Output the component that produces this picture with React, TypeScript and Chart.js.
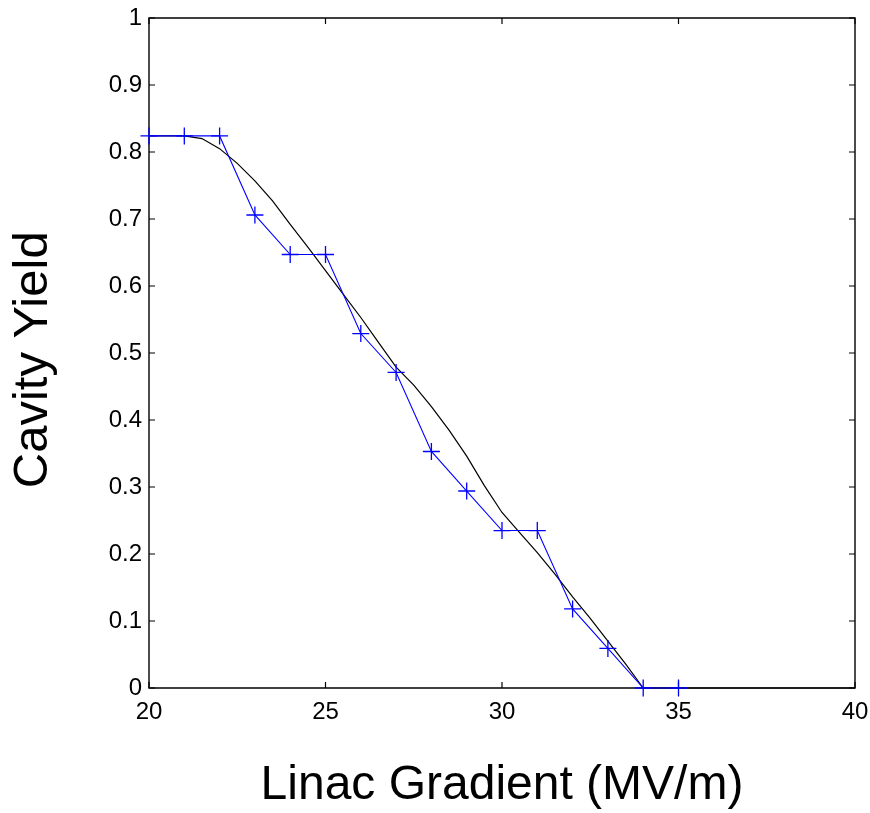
import React, { useEffect, useRef } from "react";
import { Chart, registerables } from "chart.js";

Chart.register(...registerables);

const blueX = [20, 21, 22, 23, 24, 25, 26, 27, 28, 29, 30, 31, 32, 33, 34, 35];
const blueY = [0.824, 0.824, 0.824, 0.706, 0.647, 0.647, 0.529, 0.471, 0.353, 0.294, 0.235, 0.235, 0.118, 0.059, 0, 0];

const blackX = [20, 21, 21.5, 22, 22.5, 23, 23.5, 24, 24.5, 25, 25.5, 26, 26.5, 27, 27.5, 28, 28.5, 29, 29.5, 30, 30.5, 31, 31.5, 32, 32.5, 33, 33.5, 34, 35, 40];
const blackY = [0.824, 0.824, 0.82, 0.805, 0.783, 0.757, 0.727, 0.692, 0.658, 0.623, 0.588, 0.553, 0.516, 0.479, 0.452, 0.42, 0.385, 0.346, 0.302, 0.262, 0.232, 0.202, 0.17, 0.136, 0.104, 0.07, 0.036, 0, 0, 0];

const xTicks = [20, 25, 30, 35, 40];
const yTicks = [0, 0.1, 0.2, 0.3, 0.4, 0.5, 0.6, 0.7, 0.8, 0.9, 1];

const xTitle = "Linac Gradient (MV/m)";
const yTitle = "Cavity Yield";

const FONT = "'Liberation Sans', Arial, sans-serif";

const boxPlugin = {
  id: "matlabBox",
  beforeDatasetsDraw(chart: any) {
    const { ctx, chartArea } = chart;
    const { left, right, top, bottom } = chartArea;
    const xs = chart.scales.x;
    const ys = chart.scales.y;
    const len = 6;
    ctx.save();
    ctx.strokeStyle = "#000";
    ctx.lineWidth = 1.4;
    ctx.beginPath();
    ctx.rect(left, top, right - left, bottom - top);
    ctx.stroke();
    ctx.lineWidth = 1.2;
    ctx.beginPath();
    xTicks.forEach((v) => {
      const px = xs.getPixelForValue(v);
      ctx.moveTo(px, bottom);
      ctx.lineTo(px, bottom - len);
      ctx.moveTo(px, top);
      ctx.lineTo(px, top + len);
    });
    yTicks.forEach((v) => {
      const py = ys.getPixelForValue(v);
      ctx.moveTo(left, py);
      ctx.lineTo(left + len, py);
      ctx.moveTo(right, py);
      ctx.lineTo(right - len, py);
    });
    ctx.stroke();
    ctx.restore();
  },
};

export default function App() {
  const ref = useRef<HTMLCanvasElement | null>(null);
  useEffect(() => {
    if (!ref.current) return;
    const chart = new Chart(ref.current, {
      type: "line",
      data: {
        datasets: [
          {
            label: "measured",
            data: blueX.map((x, i) => ({ x, y: blueY[i] })),
            borderColor: "#0000ff",
            backgroundColor: "#0000ff",
            borderWidth: 1.1,
            pointStyle: "cross",
            pointRadius: 8.5,
            pointBorderWidth: 1.3,
            pointBorderColor: "#0000ff",
            tension: 0,
            fill: false,
            clip: false,
            order: 1,
          },
          {
            label: "fit",
            data: blackX.map((x, i) => ({ x, y: blackY[i] })),
            borderColor: "#000000",
            borderWidth: 1.2,
            pointRadius: 0,
            tension: 0,
            fill: false,
            clip: false,
            order: 2,
          },
        ],
      },
      options: {
        animation: false,
        responsive: false,
        layout: { padding: { top: 18, right: 15, left: 0, bottom: 0 } },
        plugins: { legend: { display: false }, tooltip: { enabled: false } },
        scales: {
          x: {
            type: "linear",
            min: 20,
            max: 40,
            grid: { display: false, drawTicks: false },
            border: { display: false },
            afterBuildTicks: (s: any) => {
              s.ticks = xTicks.map((v) => ({ value: v }));
            },
            ticks: {
              color: "#000",
              font: { family: FONT, size: 24 },
              padding: 10,
              maxRotation: 0,
              autoSkip: false,
              callback: (v: any) => String(v),
            },
            title: {
              display: true,
              text: xTitle,
              color: "#000",
              font: { family: FONT, size: 48, lineHeight: 1 },
              padding: { top: 0, bottom: 3 },
            },
            afterFit: (s: any) => {
              s.height = 125;
              s.paddingLeft = 0;
              s.paddingRight = 0;
            },
          },
          y: {
            type: "linear",
            min: 0,
            max: 1,
            grid: { display: false, drawTicks: false },
            border: { display: false },
            afterBuildTicks: (s: any) => {
              s.ticks = yTicks.map((v) => ({ value: v }));
            },
            ticks: {
              color: "#000",
              font: { family: FONT, size: 24 },
              padding: 7,
              autoSkip: false,
              callback: (v: any) => String(Math.round(Number(v) * 10) / 10),
            },
            title: {
              display: true,
              text: yTitle + " ",
              color: "#000",
              font: { family: FONT, size: 49, lineHeight: 1 },
              padding: { top: 9, bottom: 0 },
            },
            afterFit: (s: any) => {
              s.width = 149;
              s.paddingTop = 0;
              s.paddingBottom = 0;
            },
          },
        },
      },
      plugins: [boxPlugin],
    });
    return () => chart.destroy();
  }, []);
  return (
    <div style={{ position: "absolute", left: 0, top: 0, width: 870, height: 813, background: "#fff" }}>
      <canvas ref={ref} width={870} height={813} style={{ width: 870, height: 813, display: "block" }} />
    </div>
  );
}
